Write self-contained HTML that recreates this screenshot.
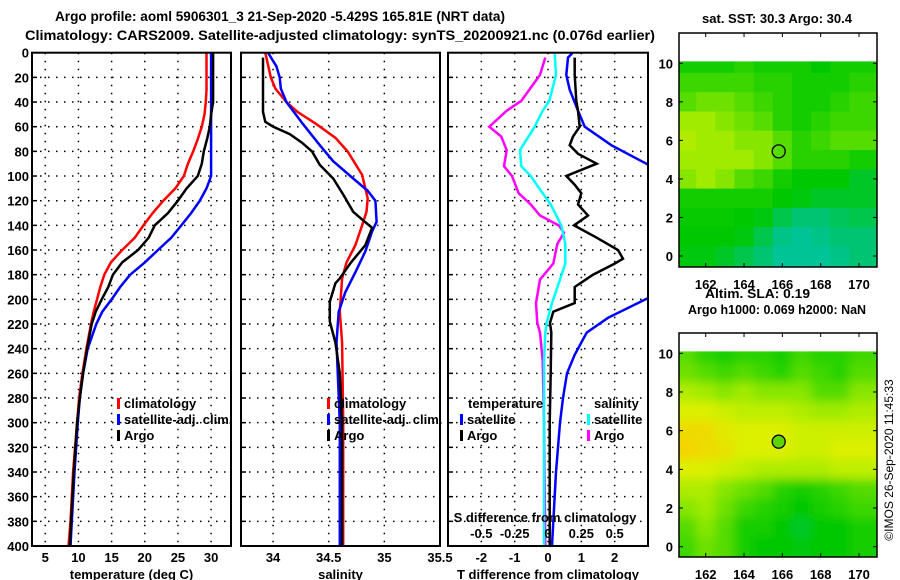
<!DOCTYPE html>
<html><head><meta charset="utf-8"><style>
html,body{margin:0;padding:0;background:#fff;}
svg{display:block;font-family:"Liberation Sans",sans-serif;font-weight:bold;}
</style></head><body>
<svg id="chart" width="900" height="580" viewBox="0 0 900 580">
<text x="55" y="21" font-size="14" textLength="450" lengthAdjust="spacingAndGlyphs">Argo profile: aoml 5906301_3 21-Sep-2020 -5.429S 165.81E (NRT data)</text>
<text x="25" y="40" font-size="14" textLength="630" lengthAdjust="spacingAndGlyphs">Climatology: CARS2009. Satellite-adjusted climatology: synTS_20200921.nc (0.076d earlier)</text>
<text x="702" y="23" font-size="13" textLength="150" lengthAdjust="spacingAndGlyphs">sat. SST: 30.3 Argo: 30.4</text>
<text x="705" y="298" font-size="13" textLength="105" lengthAdjust="spacingAndGlyphs">Altim. SLA: 0.19</text>
<text x="688" y="314" font-size="13" textLength="178" lengthAdjust="spacingAndGlyphs">Argo h1000: 0.069 h2000: NaN</text>
<text transform="translate(893,460) rotate(-90)" text-anchor="middle" font-size="12" font-weight="normal">©IMOS 26-Sep-2020 11:45:33</text>
<g id="layer"></g>
</svg>
<script>
// ---------- data ----------
const depthTicks=[0,20,40,60,80,100,120,140,160,180,200,220,240,260,280,300,320,340,360,380,400];
const tTicks=[5,10,15,20,25,30];
const sTicks=[34,34.5,35,35.5];
const sTickLabels=["34","34.5","35","35.5"];
const dTicks=[-2,-1,0,1,2];
const dsTicks=[-0.5,-0.25,0,0.25,0.5];
const dsTickLabels=["-0.5","-0.25","0","0.25","0.5"];

const tDepth=[0,10,20,30,40,50,60,70,80,90,100,110,120,130,140,150,160,170,180,190,200,210,220,240,260,280,300,340,380,400];
const tClim=[29.3,29.3,29.3,29.3,29.2,29.0,28.6,28.0,27.3,26.5,25.9,24.6,22.8,21.2,19.8,18.5,16.6,14.9,13.9,13.3,12.8,12.3,11.9,11.2,10.6,10.1,9.8,9.2,8.8,8.5];
const tSat=[30.0,30.0,30.0,30.0,30.0,30.0,30.0,30.0,30.0,30.0,30.0,29.3,28.3,27.0,25.5,24.0,22.0,20.0,17.8,16.3,15.0,13.6,12.7,11.4,10.7,10.2,9.9,9.4,9.0,8.8];
const tArgo=[30.3,30.3,30.3,30.3,30.3,30.0,29.8,29.4,28.9,28.6,28.0,26.3,25.0,23.5,21.5,20.6,19.0,16.6,15.2,14.5,13.5,12.6,12.0,11.3,10.7,10.2,9.8,9.3,8.9,8.7];

const sClimDepth=[0,20,29,40,48,58,69,80,99,118,129,140,156,170,183,210,235,300,400];
const sClim=[33.93,33.98,34.02,34.12,34.22,34.39,34.56,34.67,34.8,34.85,34.84,34.8,34.74,34.66,34.62,34.6,34.62,34.63,34.63];
const sSatDepth=[0,11,20,29,40,58,75,88,102,112,120,137,145,161,178,194,210,235,300,400];
const sSat=[33.955,34.03,34.06,34.07,34.12,34.27,34.42,34.54,34.72,34.85,34.92,34.93,34.89,34.83,34.74,34.65,34.59,34.57,34.6,34.6];
const sArgoDepth=[4,48,56,60,66,73,80,91,102,115,129,136,142,156,170,183,187,202,218,235,260,300,400];
const sArgo=[33.91,33.91,33.93,34.0,34.15,34.26,34.35,34.42,34.54,34.63,34.72,34.81,34.89,34.83,34.7,34.6,34.56,34.51,34.51,34.56,34.6,34.62,34.62];

const dsArgoDepth=[4,18,39,47,60,68,79,92,100,114,123,132,140,146,155,171,184,203,219,227,250,300,400];
const dsArgo=[-0.02,-0.06,-0.2,-0.31,-0.44,-0.35,-0.31,-0.33,-0.27,-0.22,-0.13,-0.06,0.08,0.12,0.07,0.04,-0.06,-0.09,-0.08,-0.06,-0.04,-0.03,-0.02];
const dsSatDepth=[0,18,39,47,60,79,92,100,114,123,140,155,171,184,203,219,227,250,300,400];
const dsSat=[0.05,0.06,0.01,-0.04,-0.1,-0.21,-0.2,-0.13,-0.04,0.02,0.1,0.13,0.13,0.09,0.03,-0.01,-0.02,-0.03,-0.03,-0.03];
const dtArgoDepth=[4,18,39,47,60,68,75,82,90,100,107,114,123,132,140,150,160,167,171,180,190,203,210,219,227,260,300,400];
const dtArgo=[0.8,0.8,0.85,0.9,0.95,0.75,0.65,0.9,1.46,0.55,0.8,1.0,0.9,1.2,0.78,1.46,2.1,2.25,2.0,1.35,0.8,0.8,0.16,0.06,0.1,0.08,0.05,0.05];
const dtSatDepth=[0,4,18,30,47,60,75,90,100,120,150,180,199,215,227,245,260,280,300,340,400];
const dtSat=[0.74,0.6,0.55,0.65,0.9,1.1,1.9,2.95,3.6,5,5.5,4.5,3.0,1.8,1.16,0.8,0.57,0.45,0.36,0.24,0.12];

const mapLats=[10,9,8,7,6,5,4,3,2,1,0];
const mapLons=[161,162,163,164,165,166,167,168,169,170];
const lonTicks=[162,164,166,168,170];
const latTicks=[0,2,4,6,8,10];
const sstGrid=[
[0.45,0.45,0.45,0.5,0.45,0.45,0.45,0.4,0.45,0.45],
[0.55,0.55,0.55,0.55,0.5,0.5,0.45,0.45,0.45,0.5],
[0.6,0.65,0.65,0.6,0.55,0.5,0.45,0.45,0.5,0.55],
[0.75,0.75,0.7,0.65,0.6,0.5,0.45,0.5,0.55,0.55],
[0.8,0.75,0.75,0.7,0.7,0.6,0.5,0.55,0.6,0.6],
[0.75,0.75,0.75,0.75,0.7,0.6,0.5,0.5,0.5,0.45],
[0.7,0.75,0.7,0.6,0.55,0.45,0.4,0.4,0.4,0.35],
[0.45,0.45,0.45,0.45,0.45,0.4,0.38,0.35,0.35,0.35],
[0.42,0.42,0.42,0.4,0.38,0.3,0.25,0.25,0.28,0.3],
[0.4,0.4,0.4,0.38,0.3,0.22,0.2,0.22,0.25,0.25],
[0.38,0.38,0.35,0.3,0.25,0.2,0.2,0.2,0.22,0.25]];
const slaGrid=[
[0.6,0.5,0.45,0.5,0.5,0.45,0.55,0.5,0.5,0.55],
[0.65,0.6,0.55,0.6,0.55,0.5,0.6,0.55,0.5,0.6],
[0.8,0.75,0.7,0.75,0.7,0.7,0.7,0.6,0.6,0.7],
[0.95,0.95,0.9,0.85,0.85,0.85,0.8,0.75,0.75,0.8],
[1.1,1.1,1.0,0.95,0.95,0.95,0.9,0.9,0.9,0.9],
[1.15,1.1,1.05,0.95,0.95,0.95,0.9,0.9,0.95,0.95],
[0.95,0.95,0.9,0.85,0.8,0.8,0.8,0.8,0.85,0.85],
[0.8,0.8,0.7,0.65,0.6,0.5,0.45,0.5,0.55,0.6],
[0.7,0.75,0.65,0.55,0.5,0.45,0.4,0.45,0.5,0.55],
[0.6,0.7,0.6,0.45,0.45,0.4,0.35,0.4,0.4,0.45],
[0.55,0.65,0.6,0.45,0.4,0.4,0.38,0.4,0.4,0.45]];
const floatLon=165.81, floatLat=5.43;

// ---------- drawing ----------
const NS="http://www.w3.org/2000/svg";
const layer=document.getElementById('layer');
function mk(tag,attrs,parent){const e=document.createElementNS(NS,tag);for(const k in attrs)e.setAttribute(k,attrs[k]);(parent||layer).appendChild(e);return e;}
const PT=52.7,PB=546,DMAX=400;
const yD=d=>PT+(PB-PT)*d/DMAX;
const DOTS='1.5,6.5';

function panel(id,x0,x1,vmin,vmax,ticks,labels,title){
  const g=mk('g',{});
  
  
  const xs=v=>x0+(x1-x0)*(v-vmin)/(vmax-vmin);
  const cp=mk('clipPath',{id:'clip-'+id},g);
  mk('rect',{x:x0,y:PT,width:x1-x0,height:PB-PT},cp);
  depthTicks.forEach(d=>{
    if(d>0&&d<400){const l=mk('line',{x1:x0,x2:x1,y1:yD(d),y2:yD(d),stroke:'#000','stroke-width':1.5,'stroke-dasharray':DOTS},g);
    }
    mk('line',{x1:x0,x2:x0+5,y1:yD(d),y2:yD(d),stroke:'#000','stroke-width':1.5},g);
  });
  ticks.forEach((v,i)=>{
    const x=xs(v);
    if(x>x0+1&&x<x1-1){const l=mk('line',{x1:x,x2:x,y1:PT,y2:PB,stroke:'#000','stroke-width':1.5,'stroke-dasharray':DOTS},g);
    }
    const t=mk('text',{x:x,y:562,'text-anchor':'middle','font-size':13},g);t.textContent=labels[i];
    
  });
  const tt=mk('text',{x:(x0+x1)/2,y:579,'text-anchor':'middle','font-size':13},g);tt.textContent=title;
  
  return {g,xs,clip:'url(#clip-'+id+')'};
}
function series(p,name,depths,vals,color,xs){
  const f=xs||p.xs;
  const pts=depths.map((d,i)=>f(vals[i]).toFixed(1)+','+yD(d).toFixed(1)).join(' ');
  const l=mk('polyline',{points:pts,fill:'none',stroke:color,'stroke-width':2.5,'clip-path':p.clip},p.g);
  
  
}
function border(p,x0,x1){const r=mk('rect',{x:x0,y:PT,width:x1-x0,height:PB-PT,fill:'none',stroke:'#000','stroke-width':2},p.g);
  }
function legend(g,x,y,color,label){
  mk('rect',{x:x,y:y-10,width:3,height:11,fill:color},g);
  const t=mk('text',{x:x+7,y:y,'font-size':13},g);t.textContent=label;
  
}

depthTicks.forEach(d=>{const t=mk('text',{x:29,y:yD(d)+5,'text-anchor':'end','font-size':13});t.textContent=d;
  });

const p1=panel('temperature-panel',32,231,3,33,tTicks,tTicks.map(String),'temperature (deg C)');
series(p1,'temperature-climatology-line',tDepth,tClim,'#ff0000');
series(p1,'temperature-satellite-line',tDepth,tSat,'#0000ff');
series(p1,'temperature-argo-line',tDepth,tArgo,'#000000');
border(p1,32,231);
legend(p1.g,117,408,'#ff0000','climatology');legend(p1.g,117,424,'#0000ff','satellite-adj. clim.');legend(p1.g,117,440,'#000000','Argo');

const p2=panel('salinity-panel',241,440,33.712,35.5,sTicks,sTickLabels,'salinity');
series(p2,'salinity-climatology-line',sClimDepth,sClim,'#ff0000');
series(p2,'salinity-satellite-line',sSatDepth,sSat,'#0000ff');
series(p2,'salinity-argo-line',sArgoDepth,sArgo,'#000000');
border(p2,241,440);
legend(p2.g,327,408,'#ff0000','climatology');legend(p2.g,327,424,'#0000ff','satellite-adj. clim.');legend(p2.g,327,440,'#000000','Argo');

const p3=panel('difference-panel',448,648,-3,3,dTicks,dTicks.map(String),'T difference from climatology');
const xsS=v=>448+200*(v+0.75)/1.5;
series(p3,'salinity-diff-argo-line',dsArgoDepth,dsArgo,'#ff00ff',xsS);
series(p3,'salinity-diff-satellite-line',dsSatDepth,dsSat,'#00ffff',xsS);
series(p3,'temperature-diff-satellite-line',dtSatDepth,dtSat,'#0000ff');
series(p3,'temperature-diff-argo-line',dtArgoDepth,dtArgo,'#000000');
border(p3,448,648);
{const t=mk('text',{x:468,y:408,'font-size':13},p3.g);t.textContent='temperature';}
{const t=mk('text',{x:594,y:408,'font-size':13},p3.g);t.textContent='salinity';}
legend(p3.g,460,424,'#0000ff','satellite');legend(p3.g,460,440,'#000000','Argo');
legend(p3.g,587,424,'#00ffff','satellite');legend(p3.g,587,440,'#ff00ff','Argo');
{const t=mk('text',{x:545,y:522,'text-anchor':'middle','font-size':13},p3.g);t.textContent='S difference from climatology';}
dsTicks.forEach((v,i)=>{const t=mk('text',{x:xsS(v),y:538,'text-anchor':'middle','font-size':13},p3.g);t.textContent=dsTickLabels[i];
  });

function cmap(v){
  const stops=[[0.2,[0,195,150]],[0.4,[0,200,0]],[0.55,[60,215,0]],[0.75,[160,235,0]],[0.95,[220,240,0]],[1.2,[250,205,0]]];
  if(v<=stops[0][0])return 'rgb('+stops[0][1]+')';
  for(let i=1;i<stops.length;i++){if(v<=stops[i][0]){const a=stops[i-1],b=stops[i],t=(v-a[0])/(b[0]-a[0]);
    return 'rgb('+a[1].map((c,k)=>Math.round(c+(b[1][k]-c)*t)).join(',')+')';}}
  return 'rgb('+stops[stops.length-1][1]+')';
}
function drawMap(id,grid,top,bottom,latTopVal,y10,y0,labelY,filled,blur){
  const L=679,R=877;
  const g=mk('g',{});
  
  
  const xl=lon=>705.7+(lon-162)*(859-705.7)/8;
  const yl=lat=>y0+(y10-y0)*lat/10;
  const cp=mk('clipPath',{id:'clip-'+id},g);
  mk('rect',{x:L,y:yl(latTopVal),width:R-L,height:bottom-yl(latTopVal)},cp);
  mk('rect',{x:L,y:top,width:R-L,height:bottom-top,fill:'#fff'},g);
  const cg=mk('g',{'clip-path':'url(#clip-'+id+')'},g);
  const inner=mk('g',blur?{filter:'url(#blur-'+id+')'}:{},cg);
  if(blur){const f=mk('filter',{id:'blur-'+id,x:'-10%',y:'-10%',width:'120%',height:'120%'},g);mk('feGaussianBlur',{stdDeviation:5},f);}
  grid.forEach((row,r)=>row.forEach((v,c)=>{
    const x=xl(mapLons[c]-0.5)-(c===0?20:0), w=xl(mapLons[c]+0.5)-xl(mapLons[c]-0.5)+(c===0||c===row.length-1?20:0);
    const y=yl(mapLats[r]+0.5), h=yl(mapLats[r]-0.5)-yl(mapLats[r]+0.5)+(r===grid.length-1?20:0);
    const cell=mk('rect',{x:x.toFixed(1),y:y.toFixed(1),width:(w+0.6).toFixed(1),height:(h+0.6).toFixed(1),fill:cmap(v)},inner);
    
    
  }));
  const c=mk('circle',{cx:xl(floatLon),cy:yl(floatLat),r:6.5,fill:filled?'#60d400':'none',stroke:'#000','stroke-width':1.3},g);
  
  mk('rect',{x:L,y:top,width:R-L,height:bottom-top,fill:'none',stroke:'#000','stroke-width':1.5},g);
  lonTicks.forEach(lon=>{const x=xl(lon);
    mk('line',{x1:x,x2:x,y1:top,y2:top+4,stroke:'#000'},g);mk('line',{x1:x,x2:x,y1:bottom,y2:bottom-4,stroke:'#000'},g);
    const t=mk('text',{x:x,y:labelY,'text-anchor':'middle','font-size':13},g);t.textContent=lon;
    });
  latTicks.forEach(lat=>{const y=yl(lat);
    mk('line',{x1:L,x2:L+4,y1:y,y2:y,stroke:'#000'},g);mk('line',{x1:R,x2:R-4,y1:y,y2:y,stroke:'#000'},g);
    const t=mk('text',{x:L-6,y:y+5,'text-anchor':'end','font-size':13},g);t.textContent=lat;
    });
}
drawMap('sst-map',sstGrid,33,267,10.1,63.3,256,289,false,false);
drawMap('sla-map',slaGrid,333,557,10.1,353.3,546.7,579,true,true);
</script>
</body></html>
